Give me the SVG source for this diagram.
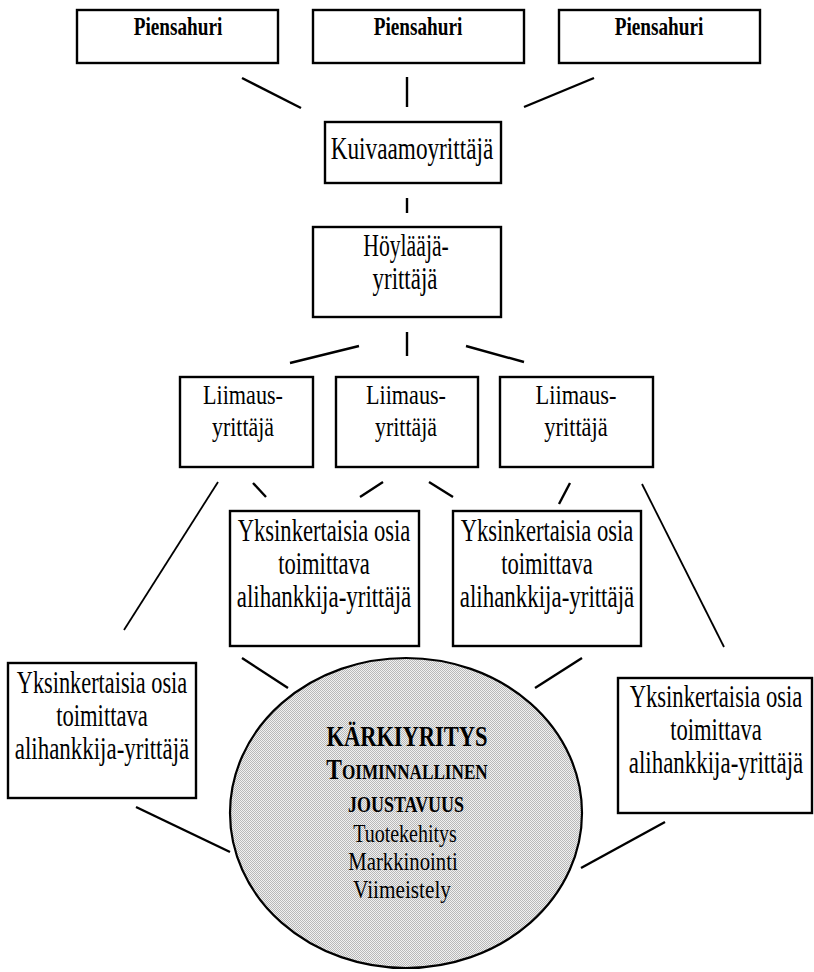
<svg xmlns="http://www.w3.org/2000/svg" width="814" height="972" viewBox="0 0 814 972">
<style>
.box{fill:#fff;stroke:#000;stroke-width:2.4}
.t{font-family:"Liberation Serif","Times New Roman",serif;font-size:31px;fill:#000;text-anchor:middle}
.s{font-size:25px}
.l{font-size:28px}
.b{font-family:"Liberation Serif","Times New Roman",serif;font-weight:bold;font-size:26px;fill:#000;text-anchor:middle}
.c line{stroke:#000;stroke-width:2.4;stroke-linecap:butt}
.c line.thin{stroke-width:1.8}
.e{stroke:#000;stroke-width:2.2}
</style>
<defs>
<pattern id="dots" patternUnits="userSpaceOnUse" width="2" height="2">
<rect width="2" height="2" fill="#f0f0f0"/>
<rect width="1" height="1" fill="#b8b8b8"/>
<rect x="1" y="1" width="1" height="1" fill="#b8b8b8"/>
</pattern>
</defs>
<rect width="814" height="972" fill="#fff"/>
<g class="c" id="connectors">
<line x1="242" y1="78" x2="301" y2="108"/>
<line x1="407" y1="77" x2="407" y2="107"/>
<line x1="524" y1="107" x2="594" y2="78"/>
<line x1="407" y1="198" x2="407" y2="213"/>
<line x1="290" y1="363" x2="359" y2="346"/>
<line x1="407" y1="332" x2="407" y2="356"/>
<line x1="466" y1="346" x2="524" y2="362"/>
<line class="thin" x1="218" y1="482" x2="124" y2="630"/>
<line x1="253" y1="483" x2="266" y2="497"/>
<line x1="360" y1="497" x2="383" y2="482"/>
<line x1="429" y1="482" x2="453" y2="497"/>
<line x1="559" y1="504" x2="570" y2="483"/>
<line class="thin" x1="642" y1="484" x2="724" y2="647"/>
<line x1="242" y1="658" x2="288" y2="688"/>
<line x1="535" y1="688" x2="582" y2="658"/>
<line x1="136" y1="807" x2="230" y2="852"/>
<line x1="665" y1="822" x2="581" y2="868"/>
</g>
<g id="piensahuri1"><rect class="box" x="77" y="10" width="201" height="53"/><text class="b" transform="translate(178,35) scale(0.74,1)">Piensahuri</text></g>
<g id="piensahuri2"><rect class="box" x="313" y="10" width="211" height="53"/><text class="b" transform="translate(418,35) scale(0.74,1)">Piensahuri</text></g>
<g id="piensahuri3"><rect class="box" x="559" y="10" width="201" height="53"/><text class="b" transform="translate(659,35) scale(0.74,1)">Piensahuri</text></g>
<g id="kuivaamo"><rect class="box" x="325" y="122" width="176" height="61"/><text class="t" transform="translate(412,159) scale(0.75,1)">Kuivaamoyrittäjä</text></g>
<g id="hoylaaja"><rect class="box" x="313" y="227" width="188" height="90"/><text class="t" transform="translate(406,256) scale(0.7,1)">Höylääjä-</text><text class="t" transform="translate(405,289) scale(0.74,1)">yrittäjä</text></g>
<g id="liimaus1"><rect class="box" x="180" y="377" width="133" height="90"/><text class="t l" transform="translate(243,404) scale(0.79,1)">Liimaus-</text><text class="t l" transform="translate(243,436) scale(0.78,1)">yrittäjä</text></g>
<g id="liimaus2"><rect class="box" x="336" y="377" width="142" height="90"/><text class="t l" transform="translate(406,404) scale(0.79,1)">Liimaus-</text><text class="t l" transform="translate(406,436) scale(0.78,1)">yrittäjä</text></g>
<g id="liimaus3"><rect class="box" x="500" y="377" width="153" height="90"/><text class="t l" transform="translate(576,404) scale(0.8,1)">Liimaus-</text><text class="t l" transform="translate(576,436) scale(0.8,1)">yrittäjä</text></g>
<g id="alihankkija1"><rect class="box" x="230" y="511" width="189" height="135"/><text class="t" transform="translate(324,541) scale(0.73,1)">Yksinkertaisia osia</text><text class="t" transform="translate(324,574) scale(0.73,1)">toimittava</text><text class="t" transform="translate(324,607) scale(0.74,1)">alihankkija-yrittäjä</text></g>
<g id="alihankkija2"><rect class="box" x="453" y="511" width="188" height="135"/><text class="t" transform="translate(547,541) scale(0.73,1)">Yksinkertaisia osia</text><text class="t" transform="translate(547,574) scale(0.73,1)">toimittava</text><text class="t" transform="translate(547,607) scale(0.74,1)">alihankkija-yrittäjä</text></g>
<g id="alihankkija3"><rect class="box" x="8" y="663" width="188" height="135"/><text class="t" transform="translate(102,693) scale(0.72,1)">Yksinkertaisia osia</text><text class="t" transform="translate(102,726) scale(0.73,1)">toimittava</text><text class="t" transform="translate(102,759) scale(0.74,1)">alihankkija-yrittäjä</text></g>
<g id="alihankkija4"><rect class="box" x="618" y="678" width="194" height="135"/><text class="t" transform="translate(716,707) scale(0.73,1)">Yksinkertaisia osia</text><text class="t" transform="translate(716,740) scale(0.73,1)">toimittava</text><text class="t" transform="translate(716,773) scale(0.74,1)">alihankkija-yrittäjä</text></g>
<g id="karkiyritys">
<ellipse class="e" cx="406" cy="813" rx="176" ry="155" fill="url(#dots)"/>
<text class="b" style="font-size:30px" transform="translate(407,746) scale(0.75,1)">KÄRKIYRITYS</text>
<text class="b" style="font-size:22px" transform="translate(407,779) scale(0.78,1)"><tspan style="font-size:30px">T</tspan>OIMINNALLINEN</text>
<text class="b" style="font-size:23px" transform="translate(406,812) scale(0.78,1)">JOUSTAVUUS</text>
<text class="t s" transform="translate(405,842) scale(0.8,1)">Tuotekehitys</text>
<text class="t s" transform="translate(403,870) scale(0.83,1)">Markkinointi</text>
<text class="t s" transform="translate(402,898) scale(0.85,1)">Viimeistely</text>
</g>
</svg>
